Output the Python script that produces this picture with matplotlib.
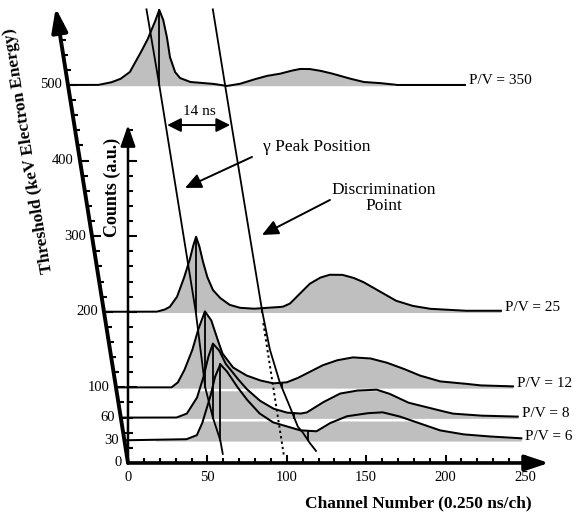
import numpy as np
import matplotlib
matplotlib.use('Agg')
import matplotlib.pyplot as plt
from matplotlib.collections import LineCollection

plt.rcParams['font.family'] = ['Liberation Serif', 'DejaVu Serif']

# ---------------- data ----------------
thresholds = [500, 200, 100, 60, 30]          # keV electron energy
pv_labels = ['P/V = 350', 'P/V = 25', 'P/V = 12', 'P/V = 8', 'P/V = 6']

ch_350 = [0, 19, 27, 33, 39, 45, 50, 54.5, 57.5, 60, 62.3, 64.2, 67.4, 70.5, 77, 85, 92, 100, 108,
          116, 125, 133, 140, 146, 152, 158, 165, 176, 186, 196, 207, 250]
cnt_350 = [0, 0, 2.5, 6, 13, 30, 45, 62, 75, 65, 48, 28, 13, 7, 3, 2, 1, -1, 1,
           5, 9, 11, 14, 16, 16, 14.5, 12, 7, 3, 2, 0, 0]

ch_25 = [0, 33, 38, 41.5, 46, 50, 54, 56, 58, 60, 62, 65, 68.5, 73, 79, 85.5, 94, 104, 112.6, 117,
         122, 129.6, 136, 142, 150, 157, 163, 174, 184, 194, 205, 216, 228, 250]
cnt_25 = [0, 0, 2, 5, 15, 32, 52, 65, 75, 66, 52, 35, 22, 14, 7, 4, 3, 4, 5, 8,
          16, 28, 34, 37, 37, 34, 30, 20, 11, 6, 3, 2, 1, 1]

ch_12 = [0, 35, 39, 43, 48, 51.6, 56, 60, 63.5, 67, 73.6, 82, 90.6, 99, 107.5, 114, 124, 130, 139,
         149, 160, 170, 180.5, 191, 204, 218, 229, 250]
cnt_12 = [0, 0, 5, 17, 37, 57, 76, 67, 50, 34, 20, 12, 7, 4, 5, 9, 17, 22, 27,
          30, 29, 25, 19, 12, 6, 4, 2, 1]

ch_8 = [0, 35, 41.6, 48, 52, 55, 58, 62, 66, 73, 79, 87.5, 96, 104.5, 113, 117, 127, 138, 148.5,
        161, 169, 181, 196, 209, 226, 250]
cnt_8 = [0, 0, 4, 20, 40, 60, 74, 67, 54, 40, 29, 17, 9, 5, 4, 5, 15, 24, 27,
         28, 24, 15, 9, 4, 2, 1]

ch_6 = [0, 39, 45.6, 49, 54, 57, 60.4, 64.5, 70.8, 77, 85, 93.5, 102, 110.4, 121, 129.3, 140, 152.6,
        162.5, 173, 186, 198.5, 213, 228, 250]
cnt_6 = [0, 1, 5, 17, 43, 63, 76, 69, 54, 41, 27, 18, 14, 10, 9, 17, 24, 27,
         28, 24, 17, 10, 6, 4, 2]

spec_ch = [ch_350, ch_25, ch_12, ch_8, ch_6]
spec_cnt = [cnt_350, cnt_25, cnt_12, cnt_8, cnt_6]

# gamma peak position vs threshold
gamma_T = [600, 500, 200, 100, 60, 30, 12]
gamma_ch = [57, 57.5, 57.8, 56.2, 58, 60.4, 60.6]
# discrimination point vs threshold (solid) and constant continuation (dotted)
disc_T = [600, 450, 300, 200, 150, 106, 74, 48, 40, 26, 16]
disc_ch = [98.8, 99.0, 99.4, 99.7, 100.7, 103.7, 107.6, 110.6, 113.2, 116.6, 119.6]
dot_T = [185, 8]
dot_ch = [99.2, 98.9]

threshold_ticks = [0, 30, 60, 100, 200, 300, 400, 500]
channel_ticks = [0, 50, 100, 150, 200, 250]

# ---------------- projection ----------------
K = 0.0756    # horizontal shift (channels) per keV of the slanted threshold axis
G = 1.3228    # counts (a.u.) -> vertical axis units


def P(ch, T, c=0.0):
    ch = np.asarray(ch, float)
    T = np.asarray(T, float)
    return ch - K * T, T + G * np.asarray(c, float)


fig = plt.figure(figsize=(5.78, 5.14), dpi=100)
ax = fig.add_axes([0, 0, 1, 1])
ax.set_xlim(-80.6, 283.4)
ax.set_ylim(-67.5, 612.4)
ax.axis('off')

GRAY = '#bfbfbf'
PT = 0.72  # points per pixel
LW = 1.45
fine = np.linspace(0, 250, 2001)

# fills, drawn from front (low T) to back (high T)
order = sorted(range(len(thresholds)), key=lambda i: thresholds[i])
for z, i in enumerate(order):
    T = thresholds[i]
    h = np.interp(fine, spec_ch[i], spec_cnt[i])
    pos = np.where(h > 0.5)[0]
    a, b = max(pos[0] - 1, 0), min(pos[-1] + 1, len(fine) - 1)
    xx, _ = P(fine[a:b + 1], T)
    top = T + G * h[a:b + 1]
    ax.fill_between(xx, T - 4.5, T - 1.0, color='white', lw=0, zorder=1 + 2 * z)
    ax.fill_between(xx, T - 1.0, np.maximum(top, T - 1.0), color=GRAY, lw=0, zorder=2 + 2 * z)

for i, T in enumerate(thresholds):
    h = np.interp(fine, spec_ch[i], spec_cnt[i])
    X, Y = P(fine, T, h)
    ax.plot(X, Y, color='k', lw=LW, zorder=20, solid_joinstyle='round')
    xe, ye = P(250, T)
    ax.annotate(pv_labels[i], (xe, ye), xytext=(4 * PT, 4 * PT), textcoords='offset points',
                ha='left', va='center', fontsize=11, zorder=30)

# gamma peak position line and markers
gx, gy = P(gamma_ch, gamma_T)
ax.plot(gx, gy, color='k', lw=1.3, zorder=21)
for i, T in enumerate(thresholds):
    g = np.interp(T, gamma_T[::-1], gamma_ch[::-1])
    hp = np.interp(g, spec_ch[i], spec_cnt[i])
    X, Y = P([g, g], [T, T], [0, hp])
    ax.plot(X, Y, color='k', lw=1.3, zorder=21)

# discrimination line, dotted continuation, markers
dx, dy = P(disc_ch, disc_T)
ax.plot(dx, dy, color='k', lw=1.3, zorder=21)
ox, oy = P(dot_ch, dot_T)
ax.plot(ox, oy, color='k', lw=1.4, ls=(0, (1.2, 1.6)), zorder=21)
for i, T in enumerate(thresholds):
    d = np.interp(T, disc_T[::-1], disc_ch[::-1])
    hd = np.interp(d, spec_ch[i], spec_cnt[i])
    X, Y = P([d, d], [T, T], [0, max(hd, 0)])
    ax.plot(X, Y, color='k', lw=1.3, zorder=21)

# ---------------- axes ----------------
arrow_kw = dict(arrowstyle='-|>,head_length=0.72,head_width=0.24', mutation_scale=20,
                color='k', shrinkA=0, shrinkB=0)
# threshold axis (slanted)
x0, y0 = P(0, 0)
x1, y1 = P(0, 602)
ax.annotate('', xy=(x1, y1), xytext=(x0, y0), arrowprops=dict(lw=2.8, **arrow_kw), zorder=25)
segs = []
for T in range(20, 600, 20):
    xa, ya = P(0, T)
    L = 5.7 if T % 100 == 0 else 3.3
    segs.append([(xa, ya), (xa + L, ya)])
ax.add_collection(LineCollection(segs, colors='k', linewidths=1.5, zorder=25))
for T in threshold_ticks:
    xa, ya = P(0, T)
    ax.annotate(str(T), (xa, ya), xytext=(-6 * PT, 0), textcoords='offset points',
                ha='right', va='center', fontsize=10.5, zorder=30)

# counts axis (vertical)
ax.annotate('', xy=(0, 447), xytext=(0, 0),
            arrowprops=dict(lw=1.8, arrowstyle='-|>,head_length=0.8,head_width=0.28',
                            mutation_scale=16, color='k', shrinkA=0, shrinkB=0), zorder=25)
segs = []
for c in range(20, 441, 20):
    L = 5.7 if c % 100 == 0 else 3.3
    segs.append([(0, c), (L, c)])
ax.add_collection(LineCollection(segs, colors='k', linewidths=1.5, zorder=25))

# channel axis (horizontal)
ax.annotate('', xy=(265, 0), xytext=(0, 0), arrowprops=dict(lw=2.6, **arrow_kw), zorder=25)
segs = []
for c in range(10, 251, 10):
    L = 10.6 if c % 50 == 0 else 6.6
    segs.append([(c, 0), (c, L)])
ax.add_collection(LineCollection(segs, colors='k', linewidths=1.5, zorder=25))
for c in channel_ticks:
    ax.annotate(str(c), (c, 0), xytext=(0, -15 * PT), textcoords='offset points',
                ha='center', va='center', fontsize=10.5, zorder=30)

# axis titles
ax.text(182.6, -52.9, 'Channel Number (0.250 ns/ch)', ha='center', va='center',
        fontsize=12.5, fontweight='bold')
ax.text(-62.6, 412.7, 'Threshold (keV Electron Energy)', ha='center', va='center',
        fontsize=12.5, fontweight='bold', rotation=99)
ax.text(-10.1, 364.4, 'Counts (a.u.)', ha='center', va='center',
        fontsize=13, fontweight='bold', rotation=90)

# annotations
Ta = 447
gA = P(np.interp(Ta, gamma_T[::-1], gamma_ch[::-1]), Ta)
dA = P(np.interp(Ta, disc_T[::-1], disc_ch[::-1]), Ta)
ax.annotate('', xy=(float(dA[0]), Ta), xytext=(float(gA[0]), Ta),
            arrowprops=dict(arrowstyle='<|-|>,head_length=0.7,head_width=0.35', mutation_scale=12,
                            lw=1.4, color='k', shrinkA=1, shrinkB=1), zorder=30)
ax.text(44.7, 464.3, '14 ns', ha='center', va='center', fontsize=11)

ax.annotate('', xy=(35.9, 363.8), xytext=(78.1, 404.8),
            arrowprops=dict(arrowstyle='-|>,head_length=0.7,head_width=0.32', mutation_scale=14,
                            lw=1.4, color='k', shrinkA=0, shrinkB=0), zorder=30)
ax.text(85.0, 418.0, 'γ Peak Position', ha='left', va='center', fontsize=12.5)

ax.annotate('', xy=(84.4, 301.6), xytext=(127.2, 347.9),
            arrowprops=dict(arrowstyle='-|>,head_length=0.7,head_width=0.32', mutation_scale=14,
                            lw=1.4, color='k', shrinkA=0, shrinkB=0), zorder=30)
ax.text(161.2, 350.5, 'Discrimination\nPoint', ha='center', va='center', fontsize=12.5,
        linespacing=1.05)

fig.savefig('out.png', dpi=100)
